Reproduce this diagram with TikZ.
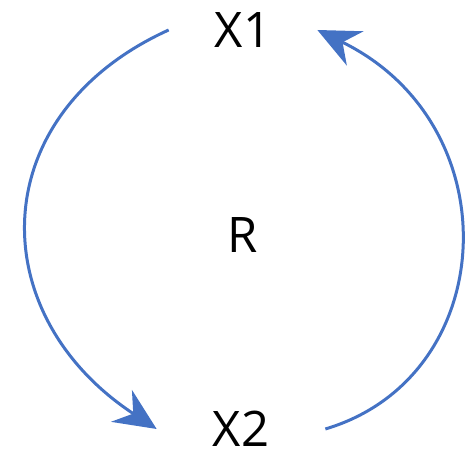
\documentclass[tikz,border=0pt]{standalone}
\usepackage{fontspec}
\setmainfont{Open Sans}
\usetikzlibrary{arrows.meta}
\definecolor{loopblue}{RGB}{68,114,196}
\tikzset{>=Stealth,every node/.style={font=\fontsize{49}{60}\selectfont},flow/.style={loopblue,line width=3pt,-{Stealth[length=42pt,width=38pt,inset=14pt]}}}
\begin{document}
\begin{tikzpicture}[x=1pt,y=1pt]
\useasboundingbox (0,0) rectangle (472,460);
\node[inner xsep=46pt] (x1) at (243,430){X1};\node[inner xsep=56pt] (x2) at (241,31){X2};
\node (r) at (243,225){R};
\draw[flow] (x1.west)..controls +(-185,-84) and +(-175,115)..(x2.west);
\draw[flow] (x2.east)..controls +(175,52) and +(195,-95)..(x1.east);
\end{tikzpicture}
\end{document}
